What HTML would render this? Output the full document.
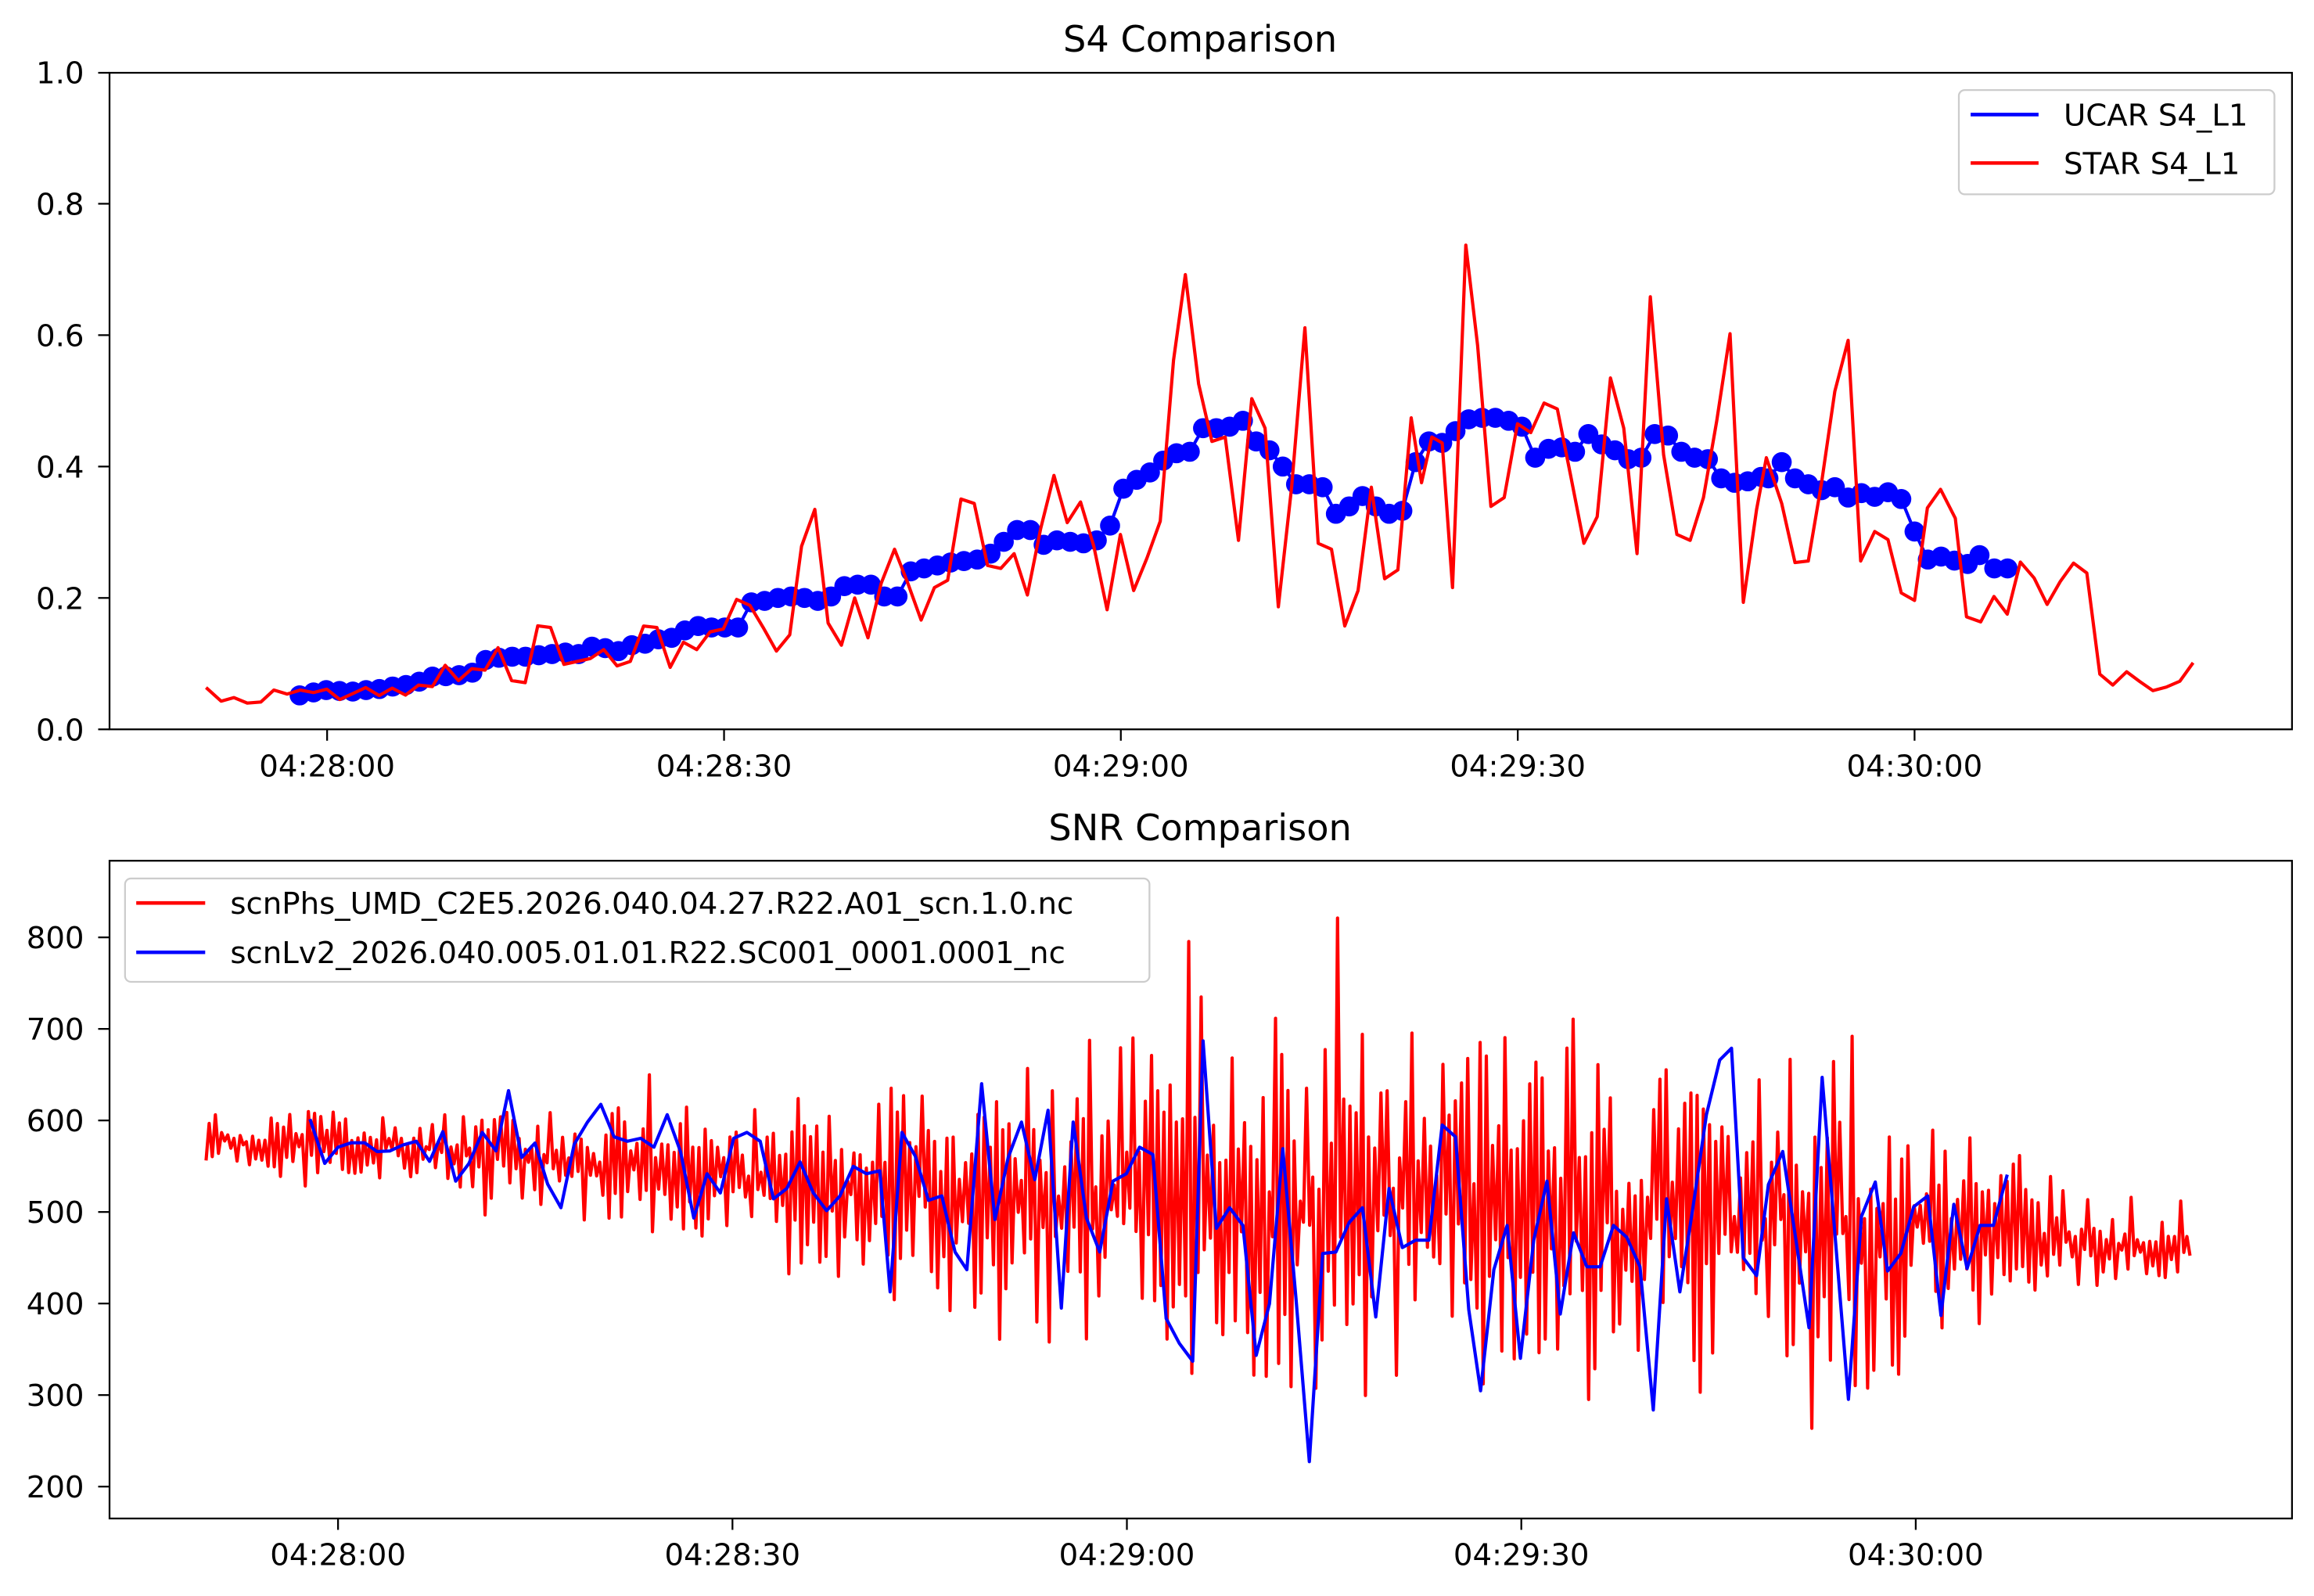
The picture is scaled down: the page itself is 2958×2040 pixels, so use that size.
<!DOCTYPE html>
<html><head><meta charset="utf-8">
<style>html,body{margin:0;padding:0;background:#fff;}svg{display:block;}
text{font-family:"DejaVu Sans","Liberation Sans",sans-serif;fill:#000;}</style></head>
<body>
<svg id="s" xmlns="http://www.w3.org/2000/svg" width="2958" height="2040" viewBox="0 0 1567.6 1081" preserveAspectRatio="none">
<rect width="1567.6" height="1081" fill="#fff"/>
<g id="top"></g><g id="bot"></g>
<rect x="74.2" y="49.3" width="1478.5" height="444.7" fill="none" stroke="#000" stroke-width="1.2"/>
<g font-size="20.5" text-anchor="end">
<text x="57" y="501.5">0.0</text><text x="57" y="412.5">0.2</text><text x="57" y="323.5">0.4</text><text x="57" y="234.5">0.6</text><text x="57" y="145.5">0.8</text><text x="57" y="56.5">1.0</text>
</g>
<g stroke="#000" stroke-width="1.2">
<line x1="66.5" x2="74.2" y1="494" y2="494"/><line x1="66.5" x2="74.2" y1="405" y2="405"/><line x1="66.5" x2="74.2" y1="316" y2="316"/><line x1="66.5" x2="74.2" y1="227" y2="227"/><line x1="66.5" x2="74.2" y1="138" y2="138"/><line x1="66.5" x2="74.2" y1="49.3" y2="49.3"/>
<line x1="221.6" x2="221.6" y1="494" y2="501.7"/><line x1="490.5" x2="490.5" y1="494" y2="501.7"/><line x1="759.3" x2="759.3" y1="494" y2="501.7"/><line x1="1028.2" x2="1028.2" y1="494" y2="501.7"/><line x1="1297" x2="1297" y1="494" y2="501.7"/>
</g>
<g font-size="20.5" text-anchor="middle">
<text x="221.6" y="526">04:28:00</text><text x="490.5" y="526">04:28:30</text><text x="759.3" y="526">04:29:00</text><text x="1028.2" y="526">04:29:30</text><text x="1297" y="526">04:30:00</text>
<text x="813" y="35" font-size="24.5">S4 Comparison</text>
<text x="813" y="569" font-size="24.5">SNR Comparison</text>
</g>
<rect x="1327" y="61" width="213.8" height="70.6" rx="4" fill="#fff" fill-opacity="0.8" stroke="#ccc" stroke-width="1.2"/>
<line x1="1335" x2="1381" y1="77.6" y2="77.6" stroke="#00f" stroke-width="2.4"/>
<line x1="1335" x2="1381" y1="110.4" y2="110.4" stroke="#f00" stroke-width="2.4"/>
<text x="1398" y="85" font-size="20.5">UCAR S4_L1</text>
<text x="1398" y="117.8" font-size="20.5">STAR S4_L1</text>
<rect x="74.2" y="583" width="1478.5" height="445.5" fill="none" stroke="#000" stroke-width="1.2"/>
<g font-size="20.5" text-anchor="end">
<text x="57" y="642.3">800</text><text x="57" y="704.3">700</text><text x="57" y="766.3">600</text><text x="57" y="828.3">500</text><text x="57" y="890.3">400</text><text x="57" y="952.3">300</text><text x="57" y="1014.3">200</text>
</g>
<g stroke="#000" stroke-width="1.2">
<line x1="66.5" x2="74.2" y1="634.9" y2="634.9"/><line x1="66.5" x2="74.2" y1="696.9" y2="696.9"/><line x1="66.5" x2="74.2" y1="758.9" y2="758.9"/><line x1="66.5" x2="74.2" y1="820.9" y2="820.9"/><line x1="66.5" x2="74.2" y1="882.9" y2="882.9"/><line x1="66.5" x2="74.2" y1="944.9" y2="944.9"/><line x1="66.5" x2="74.2" y1="1006.9" y2="1006.9"/>
<line x1="229" x2="229" y1="1028.5" y2="1036.2"/><line x1="496.2" x2="496.2" y1="1028.5" y2="1036.2"/><line x1="763.4" x2="763.4" y1="1028.5" y2="1036.2"/><line x1="1030.6" x2="1030.6" y1="1028.5" y2="1036.2"/><line x1="1297.8" x2="1297.8" y1="1028.5" y2="1036.2"/>
</g>
<g font-size="20.5" text-anchor="middle">
<text x="229" y="1060">04:28:00</text><text x="496.2" y="1060">04:28:30</text><text x="763.4" y="1060">04:29:00</text><text x="1030.6" y="1060">04:29:30</text><text x="1297.8" y="1060">04:30:00</text>
</g>
<g id="leg2">
<rect x="84.7" y="595" width="694" height="70" rx="4" fill="#fff" fill-opacity="0.8" stroke="#ccc" stroke-width="1.2"/>
<line x1="92.3" x2="139" y1="611.6" y2="611.6" stroke="#f00" stroke-width="2.4"/>
<line x1="92.3" x2="139" y1="645" y2="645" stroke="#00f" stroke-width="2.4"/>
<text x="156" y="619" font-size="20.5">scnPhs_UMD_C2E5.2026.040.04.27.R22.A01_scn.1.0.nc</text>
<text x="156" y="652.4" font-size="20.5">scnLv2_2026.040.005.01.01.R22.SC001_0001.0001_nc</text>
</g>
</svg>
<script>
(function(){
var NS="http://www.w3.org/2000/svg";
function pl(g,pts,col,w){var p=document.createElementNS(NS,"polyline");p.setAttribute("points",pts.map(function(q){return q[0].toFixed(1)+","+q[1].toFixed(1)}).join(" "));p.setAttribute("fill","none");p.setAttribute("stroke",col);p.setAttribute("stroke-width",w);p.setAttribute("stroke-linejoin","round");g.appendChild(p);}
var top=document.getElementById("top"),bot=document.getElementById("bot");
var by=[[203,471],[212.4,469],[221,467.4],[230,468],[239,468.4],[248,467.4],[257,466.7],[266,465],[275,464],[284,461.7],[293,458.3],[302,458],[311,457.3],[320,455.6],[329,447],[338,445.5],[347,444.8],[356,444.8],[365,443.8],[374,443],[383,442],[392,443],[401,438],[410,439],[419,441],[428,437],[437,436],[446,433],[455,432],[464,427],[473,424],[482,425],[491,425],[500,425],[509,408],[518,407],[527,405],[536,404],[545,405],[554,407],[563,404],[572,397],[581,396],[590,396],[599,404],[608,404],[617,387],[626,385],[635,383],[644,381],[653,380],[662,379],[671,375],[680,367],[689,359],[698,359],[707,369],[716,366],[725,367],[734,368],[743,366],[752,356],[761,331],[770,325],[779,320],[788,312],[797,307],[806,306],[815,290],[824,290],[833,289],[842,285],[851,299],[860,305],[869,316],[878,328],[887,328],[896,330],[905,348],[914,343],[923,336],[932,343],[941,348],[950,346],[959,313],[968,299],[977,300],[986,292],[995,284],[1004,283],[1013,283],[1022,285],[1031,289],[1040,310],[1049,304],[1058,303],[1067,306],[1076,294],[1085,301],[1094,305],[1103,311],[1112,310],[1121,294],[1130,295],[1139,306],[1148,310],[1157,311],[1166,324],[1175,327],[1184,326],[1193,323],[1198,324],[1207,313],[1216,324],[1225,328],[1234,332],[1243,330],[1252,337],[1261,334],[1270,336.5],[1279,333.4],[1288,338],[1297,360],[1306,379],[1315,377],[1324,379.7],[1333,382],[1341,376],[1351,385],[1360,385]];
pl(top,by,"#00f",2.2);
by.forEach(function(q){var c=document.createElementNS(NS,"circle");c.setAttribute("cx",q[0]);c.setAttribute("cy",q[1]);c.setAttribute("r",6.8);c.setAttribute("fill","#00f");top.appendChild(c);});
var ry=[[139.6,465.7],[149.8,474.9],[158.5,472.5],[167.5,476.2],[176.7,475.5],[185.5,467.4],[194.5,470.1],[203.5,467.4],[212.4,469.1],[221.4,466.8],[230.2,473.8],[238.9,469.8],[247.7,465.7],[256.9,471.1],[265.7,466.1],[274.7,470.8],[283.6,464],[292.9,465],[301.6,450.6],[310.6,461],[319.6,452.9],[328.6,453.9],[337.4,438.7],[346.6,461],[355.8,462.4],[364.3,423.9],[373,425],[382,450],[391,448],[400,446],[409,440],[418,451],[427,448],[436,424],[445,425],[454,452],[463,435],[472,440],[481,428],[490,426],[499,406],[508,410],[517,425],[526,441],[535,430],[543,370],[552,345],[561,422],[570,437],[579,405],[588,432],[597,395],[606,372],[615,395],[624,420],[633,398],[642,393],[651,338],[660,341],[669,383],[678,385],[687,375],[696,403],[705,358],[714,322],[723,354],[732,340],[741,370],[750,413],[759,362],[768,400],[777,378],[786,353],[795,244],[803,186],[812,260],[821,299],[830,296],[839,366],[848,270],[857,290],[866,411],[875,330],[884,222],[893,368],[902,372],[911,424],[920,400],[929,330],[938,392],[947,386],[956,283],[963,327],[970,296],[977,300],[984,398],[993,166],[1001,234],[1010,343],[1019,337],[1028,287],[1037,293],[1046,273],[1055,277],[1064,322],[1073,368],[1082,350],[1091,256],[1100,290],[1109,375],[1118,201],[1127,308],[1136,362],[1145,366],[1154,337],[1163,285],[1172,226],[1181,408],[1190,345],[1196.6,310],[1207,341],[1216,381],[1225,380],[1234,327],[1243,265],[1252,230.5],[1260.5,380],[1270,360],[1279,365.5],[1288,401.6],[1297,406.7],[1305.7,344],[1314.6,331.4],[1324.6,351],[1332.2,417.8],[1341.8,421.2],[1350.8,404],[1359.8,416],[1368.7,380.7],[1378,391.5],[1386.8,409.4],[1395.7,393.9],[1404.7,381.4],[1413.7,388.1],[1422.5,456.6],[1431.3,464],[1440.7,455],[1449.7,461.7],[1458.5,467.8],[1467.5,465.4],[1476.7,461.4],[1485.7,448.9]];
pl(top,ry,"#f00",2.2);
var seed=98765;function rnd(){seed=(seed*1103515245+12345)%2147483648;return seed/2147483648;}
function Y(v){return 634.9+(800-v)*0.62;}
function lerp(xs,ys,x){for(var i=0;i<xs.length-1;i++){if(x<=xs[i+1]){var t=(x-xs[i])/(xs[i+1]-xs[i]);return ys[i]+t*(ys[i+1]-ys[i]);}}return ys[ys.length-1];}
var mx=[140,300,450,700,1000,1300,1485],my=[578,568,545,515,500,485,458];
var ax=[140,300,420,600,760,820,1250,1330,1400,1485],ay=[32,45,70,120,190,215,200,110,55,35];
var pts=[],s=1;
for(var x=139.6;x<=1485;x+=2.1){s=-s;var r=rnd();var a=lerp(ax,ay,x);if(rnd()<0.08)a*=1.5;var v=lerp(mx,my,x)+s*a*(0.1+0.9*Math.pow(r,1.6))+(rnd()-0.5)*a*0.25;pts.push([x,Y(v)]);}
pl(bot,pts,"#f00",2.2);
var bb=[[210,758],[220,788],[229,777],[238,774],[247,774],[255.5,780],[264,779.6],[273,775.5],[282,773],[291,786.6],[300,766.5],[308.7,800],[317.7,788],[326.7,767],[336,779.5],[344.5,738.7],[353.4,784],[362.4,774.2],[371,802],[380,818],[389,775],[398,760],[407,748],[416,770],[425,773],[434,771],[443,777],[452,755],[461,780],[470,825],[479,795],[488,808],[497,771],[506,767],[515,773],[524,812],[533,805],[542,787],[551,808],[560,820],[569,810],[578,790],[587,795],[596,793],[603,875],[611,767],[620,783],[629,813],[638,810],[647,848],[655,860],[665,734],[674,826],[683,784],[692,760],[701,799],[710,752],[719,886],[727,760],[736,825],[745,848],[754,800],[763,795],[772,777],[781,782],[790,893],[799,910],[808,922],[815,705],[824,832],[833,818],[842,830],[851,918],[860,883],[869,778],[878,880],[887,990],[896,849],[905,848],[914,828],[923,818],[932,892],[941,805],[950,845],[959,840],[968,840],[977,762],[986,770],[995,887],[1003,942],[1012,860],[1021,830],[1030,920],[1039,840],[1048,800],[1057,890],[1066,835],[1075,858],[1084,858],[1093,830],[1102,838],[1111,858],[1120,955],[1129,812],[1138,875],[1147,817],[1156,755],[1165,718],[1173,710],[1181,852],[1190,864],[1198,802.3],[1207.7,779.9],[1225.5,899.3],[1234.4,729.7],[1252.2,947.8],[1261,824],[1270.4,800.6],[1278.7,860.9],[1287.7,849],[1296.4,817.4],[1305.9,810],[1314.9,891],[1323.6,815.7],[1332.6,859.2],[1341.4,830],[1350.4,830],[1359.8,795.6]];
pl(bot,bb,"#00f",2.2);
})();
</script>
</body></html>
